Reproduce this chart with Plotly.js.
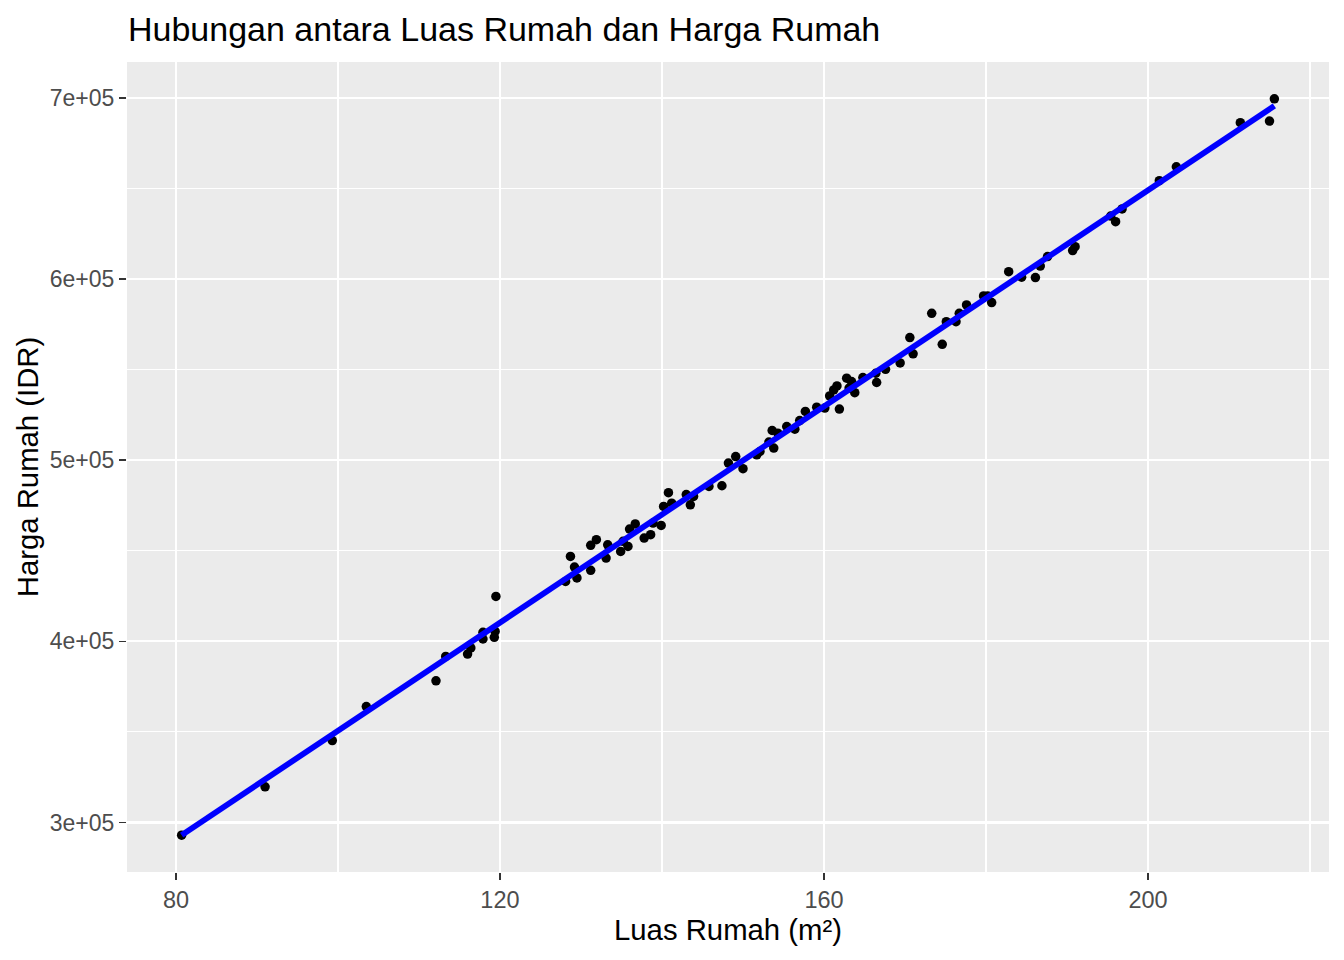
<!DOCTYPE html>
<html>
<head>
<meta charset="utf-8">
<script src="https://cdn.plot.ly/plotly-3.0.1.min.js"></script>
<style>html,body{margin:0;padding:0;background:#fff;}#chart{width:1344px;height:960px;}</style>
</head>
<body>
<div id="chart"></div>
<script>
const luasRumah = [
  80.7, 91.0, 99.3, 103.5, 112.1, 113.3, 116.0, 116.4, 117.9, 117.9,
  119.3, 119.4, 119.5, 128.1, 128.7, 129.2, 129.5, 131.2, 131.2, 131.9,
  133.3, 133.1, 134.9, 135.2, 135.8, 136.0, 136.7, 137.8, 138.6, 138.9,
  139.9, 140.2, 140.8, 141.2, 143.5, 143.0, 143.9, 145.8, 147.4, 148.2,
  149.1, 150.0, 151.7, 152.1, 153.2, 153.8, 153.6, 154.3, 155.4, 156.4,
  157.0, 157.7, 159.1, 160.1, 160.7, 161.9, 161.2, 161.6, 162.8, 163.4,
  163.1, 163.8, 164.8, 166.5, 166.4, 167.6, 169.4, 170.6, 171.0, 173.3,
  174.6, 175.1, 176.3, 176.7, 177.6, 179.7, 180.2, 180.7, 182.8, 184.4,
  186.1, 186.7, 187.6, 190.7, 191.0, 195.4, 196.0, 196.8, 201.4, 203.5,
  211.4, 215.0, 215.6
];
const hargaRumah = [
  293000, 319700, 345200, 364000, 378200, 391700, 393000, 396400, 405000, 401300,
  402200, 405500, 424800, 433100, 446900, 441000, 435000, 439200, 453000, 456100,
  453300, 446000, 449600, 455200, 452400, 462000, 464800, 457000, 458900, 465300,
  464000, 474500, 482100, 476300, 475400, 481000, 480000, 485500, 485900, 498400,
  502000, 495300, 503000, 504800, 510000, 506700, 516400, 514900, 518600, 517100,
  521900, 526900, 529300, 528800, 535500, 528200, 538800, 541000, 545300, 543400,
  539800, 537300, 545600, 542900, 548000, 550200, 553700, 567700, 558700, 581100,
  564000, 576500, 576500, 581100, 585700, 590700, 590700, 587000, 604100, 601000,
  600800, 607200, 612400, 615700, 617900, 634800, 631700, 638700, 654300, 662000,
  686300, 687200, 699500
];
const xTickVals = [80, 120, 160, 200];
const xTickText = ["80", "120", "160", "200"];
const yTickVals = [300000, 400000, 500000, 600000, 700000];
const yTickText = ["3e+05", "4e+05", "5e+05", "6e+05", "7e+05"];
const chartTitle = "Hubungan antara Luas Rumah dan Harga Rumah";
const xTitle = "Luas Rumah (m²)";
const yTitle = "Harga Rumah (IDR)";

// linear least-squares fit (as geom_smooth(method = "lm"))
const n = luasRumah.length;
const mx = luasRumah.reduce((a, b) => a + b, 0) / n;
const my = hargaRumah.reduce((a, b) => a + b, 0) / n;
let sxy = 0, sxx = 0;
for (let i = 0; i < n; i++) { sxy += (luasRumah[i] - mx) * (hargaRumah[i] - my); sxx += (luasRumah[i] - mx) ** 2; }
const slope = sxy / sxx, intercept = my - slope * mx;
const xmin = Math.min(...luasRumah), xmax = Math.max(...luasRumah);
const fitX = [xmin, xmax];
const fitY = fitX.map(v => intercept + slope * v);

const ymin = Math.min(...hargaRumah), ymax = Math.max(...hargaRumah);
const xpad = (xmax - xmin) * 0.05, ypad = (ymax - ymin) * 0.05;

const font = "Liberation Sans, Arial, sans-serif";
const traces = [
  { x: luasRumah, y: hargaRumah, type: "scatter", mode: "markers",
    marker: { color: "#000000", size: 9.5 }, hoverinfo: "x+y" },
  { x: fitX, y: fitY, type: "scatter", mode: "lines",
    line: { color: "#0000FF", width: 5.8 }, hoverinfo: "skip" }
];
const layout = {
  width: 1344, height: 960,
  paper_bgcolor: "#FFFFFF", plot_bgcolor: "#EBEBEB",
  showlegend: false,
  margin: { l: 127, r: 15, t: 62, b: 88, pad: 0 },
  font: { family: font },
  title: { text: chartTitle, font: { family: font, size: 34, color: "#000000" },
           x: 128 / 1344, xref: "container", xanchor: "left", y: 1 - 29 / 960, yref: "container", yanchor: "middle" },
  xaxis: {
    range: [xmin - xpad, xmax + xpad], tickmode: "array", tickvals: xTickVals, ticktext: xTickText,
    showgrid: true, gridcolor: "#FFFFFF", gridwidth: 2.2, zeroline: false, showline: false,
    ticks: "outside", ticklen: 7, tickwidth: 1.5, tickcolor: "#333333",
    tickfont: { family: font, size: 23.5, color: "#4D4D4D" },
    minor: { tickmode: "array", tickvals: [100, 140, 180, 220], showgrid: true, gridcolor: "#FFFFFF", gridwidth: 1.1, ticks: "" },
    title: { text: xTitle, font: { family: font, size: 29.3, color: "#000000" }, standoff: 7 },
    automargin: false
  },
  yaxis: {
    range: [ymin - ypad, ymax + ypad], tickmode: "array", tickvals: yTickVals, ticktext: yTickText,
    showgrid: true, gridcolor: "#FFFFFF", gridwidth: 2.2, zeroline: false, showline: false,
    ticks: "outside", ticklen: 7, tickwidth: 1.5, tickcolor: "#333333",
    tickfont: { family: font, size: 23, color: "#4D4D4D" },
    minor: { tickmode: "array", tickvals: [350000, 450000, 550000, 650000], showgrid: true, gridcolor: "#FFFFFF", gridwidth: 1.1, ticks: "" },
    title: { text: yTitle, font: { family: font, size: 29.3, color: "#000000" }, standoff: 2 },
    automargin: false
  }
};
Plotly.newPlot("chart", traces, layout, { staticPlot: true, displayModeBar: false });
</script>
</body>
</html>
